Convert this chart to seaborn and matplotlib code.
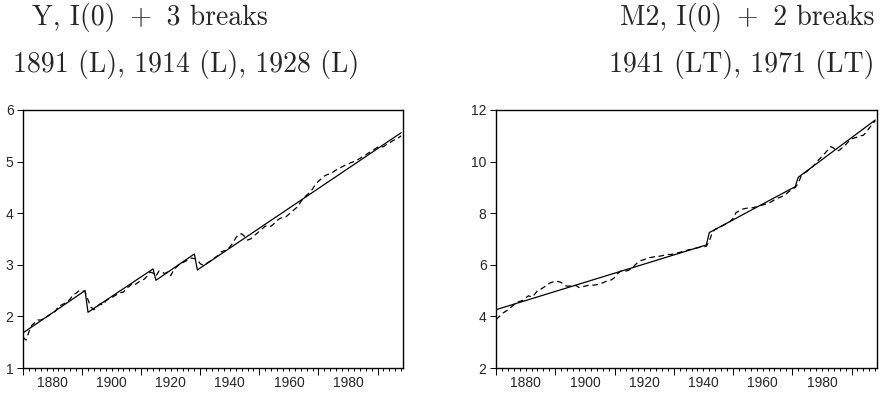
import numpy as np
import pandas as pd
import matplotlib
matplotlib.use("Agg")
import matplotlib.pyplot as plt
import seaborn as sns

# observation years shared by both panels
years = np.arange(1870, 1999)

# Y: actual series (dashed)
y_actual = [
    1.60, 1.54, 1.70, 1.83, 1.88, 1.93, 1.93, 1.95, 1.99, 2.03,
    2.06, 2.10, 2.20, 2.22, 2.25, 2.28, 2.34, 2.42, 2.45, 2.50,
    2.50, 2.48, 2.32, 2.18, 2.13, 2.18, 2.24, 2.22, 2.30, 2.34,
    2.36, 2.40, 2.43, 2.46, 2.47, 2.55, 2.58, 2.64, 2.62, 2.66,
    2.70, 2.72, 2.78, 2.86, 2.84, 2.78, 2.88, 2.86, 2.83, 2.86,
    2.79, 2.90, 2.96, 3.02, 3.04, 3.07, 3.10, 3.13, 3.12, 3.10,
    3.02, 2.99, 3.02, 3.06, 3.09, 3.14, 3.18, 3.25, 3.27, 3.28,
    3.35, 3.42, 3.52, 3.59, 3.60, 3.55, 3.48, 3.50, 3.55, 3.60,
    3.65, 3.70, 3.75, 3.74, 3.75, 3.80, 3.86, 3.90, 3.92, 3.93,
    3.98, 4.03, 4.08, 4.13, 4.22, 4.30, 4.35, 4.40, 4.47, 4.56,
    4.62, 4.67, 4.72, 4.75, 4.76, 4.80, 4.84, 4.87, 4.90, 4.93,
    4.95, 4.98, 5.00, 5.03, 5.06, 5.10, 5.13, 5.17, 5.20, 5.24,
    5.28, 5.28, 5.29, 5.33, 5.36, 5.40, 5.43, 5.46, 5.50,
]
# Y: fitted trend with level breaks (solid), given at its kinks
y_fit_years = [1870, 1891, 1892, 1914, 1915, 1928, 1929, 1998]
y_fit = [1.68, 2.50, 2.08, 2.92, 2.70, 3.21, 2.90, 5.56]

# M2: actual series (dashed)
m2_actual = [
    3.88, 3.98, 4.10, 4.18, 4.25, 4.35, 4.45, 4.55, 4.58, 4.62,
    4.72, 4.80, 4.75, 4.85, 5.00, 5.05, 5.12, 5.20, 5.28, 5.33,
    5.36, 5.35, 5.32, 5.22, 5.17, 5.18, 5.18, 5.20, 5.12, 5.15,
    5.17, 5.20, 5.22, 5.21, 5.23, 5.25, 5.30, 5.35, 5.38, 5.42,
    5.50, 5.65, 5.75, 5.78, 5.76, 5.80, 5.88, 6.00, 6.10, 6.17,
    6.20, 6.25, 6.28, 6.30, 6.33, 6.33, 6.35, 6.38, 6.40, 6.40,
    6.42, 6.45, 6.48, 6.52, 6.55, 6.58, 6.60, 6.63, 6.66, 6.68,
    6.70, 6.72, 6.92, 7.25, 7.38, 7.42, 7.48, 7.55, 7.60, 7.68,
    7.80, 8.02, 8.08, 8.15, 8.18, 8.20, 8.20, 8.22, 8.25, 8.28,
    8.32, 8.35, 8.38, 8.45, 8.52, 8.58, 8.62, 8.68, 8.75, 8.85,
    8.92, 9.00, 9.15, 9.45, 9.55, 9.62, 9.72, 9.82, 9.95, 10.08,
    10.20, 10.32, 10.45, 10.58, 10.52, 10.40, 10.45, 10.55, 10.65, 10.78,
    10.88, 10.92, 10.95, 11.00, 11.02, 11.15, 11.30, 11.45, 11.58,
]
# M2: fitted trend with level+trend breaks (solid)
m2_fit_years = [1870, 1941, 1942, 1971, 1972, 1998]
m2_fit = [4.26, 6.77, 7.25, 9.03, 9.39, 11.61]

titles = [
    ("Y, I(0) \u2009+\u2009 3 breaks", "1891 (L), 1914 (L), 1928 (L)"),
    ("M2, I(0) \u2009+\u2009 2 breaks", "1941 (LT), 1971 (LT)"),
]

sns.set_style("ticks")
plt.rcParams["font.family"] = ["Liberation Sans", "DejaVu Sans"]


def draw_panel(ax, actual, fit_years, fit, ylim, yticks):
    df_a = pd.DataFrame({"year": years, "value": actual})
    df_f = pd.DataFrame({"year": fit_years, "value": fit})
    sns.lineplot(data=df_f, x="year", y="value", ax=ax, color="black",
                 lw=0.9, estimator=None)
    sns.lineplot(data=df_a, x="year", y="value", ax=ax, color="black",
                 lw=0.9, linestyle=(0, (4.5, 3)), estimator=None)
    ax.set_xlim(1870, 1998.6)
    ax.set_ylim(*ylim)
    ax.set_yticks(yticks)
    ax.set_xticks(np.arange(1880, 1981, 20))
    ax.set_xticks(np.arange(1870, 1999, 2), minor=True)
    ax.set_xlabel("")
    ax.set_ylabel("")
    for s in ax.spines.values():
        s.set_visible(True)
        s.set_linewidth(1.0)
        s.set_color("black")
    ax.tick_params(axis="x", which="both", length=2.4, width=0.7,
                   direction="out", pad=3.7, labelsize=10, color="black")
    ax.tick_params(axis="y", length=4.3, width=0.7, direction="out",
                   pad=2.5, labelsize=10, color="black")
    # long ticks every 20 years between the labels
    sec = ax.secondary_xaxis("bottom")
    sec.set_xticks(np.arange(1870, 1999, 20))
    sec.tick_params(length=4.8, width=0.7, labelbottom=False, color="black")
    sec.spines["bottom"].set_visible(False)


fig = plt.figure(figsize=(8.88, 3.95), dpi=100)
ax1 = fig.add_axes([23 / 888, 1 - 368 / 395, 380 / 888, 258 / 395])
ax2 = fig.add_axes([496 / 888, 1 - 368 / 395, 381 / 888, 258 / 395])

draw_panel(ax1, y_actual, y_fit_years, y_fit, (1, 6), range(1, 7))
draw_panel(ax2, m2_actual, m2_fit_years, m2_fit, (2, 12), range(2, 13, 2))

tkw = dict(family=["cmr10", "DejaVu Serif"], fontsize=20, va="baseline")
fig.text(32 / 888, 1 - 25 / 395, titles[0][0], ha="left", **tkw)
fig.text(13 / 888, 1 - 71.7 / 395, titles[0][1], ha="left", **tkw)
fig.text(874 / 888, 1 - 25 / 395, titles[1][0], ha="right", **tkw)
fig.text(874 / 888, 1 - 71.7 / 395, titles[1][1], ha="right", **tkw)

fig.savefig("out.png", dpi=100)
